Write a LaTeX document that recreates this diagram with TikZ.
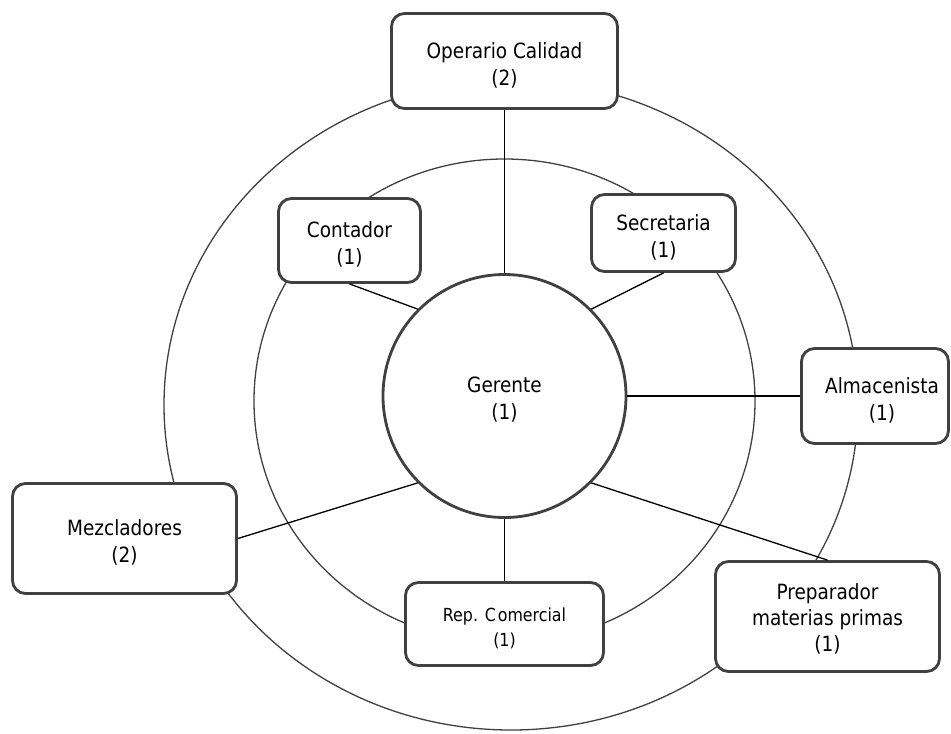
\documentclass[tikz,border=0pt]{standalone}
\usepackage{fontspec}
\setmainfont{DejaVu Sans}[FakeStretch=0.88]
\definecolor{bord}{HTML}{404040}
\tikzset{
  box/.style={draw=bord, line width=2.8pt, rounded corners=13pt, fill=white, inner sep=0pt},
  txt/.style={align=center, inner sep=0pt, font=\fontsize{21}{27}\selectfont},
  ring/.style={draw=bord, line width=1.3pt},
  conn/.style={draw=black, line width=1.3pt},
  hub/.style={circle, draw=bord, line width=2.8pt, fill=white, minimum size=243pt, inner sep=0pt},
}
\begin{document}
\begin{tikzpicture}[x=1pt,y=-1pt]
\useasboundingbox (0,0) rectangle (951,734);
% rings
\draw[ring] (504.5,401) ellipse [x radius=250.5pt, y radius=242pt];
\draw[ring] (511,405) ellipse [x radius=347pt, y radius=325pt];
% center
\node[hub] (ger) at (504.5,396) {};
% boxes
\node[box, minimum width=226pt, minimum height=95pt] (op) at (504.5,61) {};
\node[box, minimum width=142pt, minimum height=84pt] (con) at (349.5,240.5) {};
\node[box, minimum width=144pt, minimum height=77pt] (sec) at (663.5,233) {};
\node[box, minimum width=147pt, minimum height=95pt] (alm) at (875,396) {};
\node[box, minimum width=224pt, minimum height=110pt] (prep) at (827.5,616.5) {};
\node[box, minimum width=198pt, minimum height=83pt] (rep) at (504.5,624) {};
\node[box, minimum width=224pt, minimum height=110pt] (mez) at (124.5,538.5) {};
% texts
\node[txt] (tger) at ([yshift=-4pt]ger.center) {Gerente\\(1)};
\node[txt] (top) at ([yshift=-4pt]op.center) {Operario Calidad\\(2)};
\node[txt] (tcon) at ([yshift=-4pt]con.center) {Contador\\(1)};
\node[txt] (tsec) at ([yshift=-4pt]sec.center) {Secretaria\\(1)};
\node[txt] (talm) at ([xshift=7pt,yshift=-4pt]alm.center) {Almacenista\\(1)};
\node[txt, font=\fontsize{21}{26}\selectfont] (tprep) at ([yshift=-2pt]prep.center) {Preparador\\materias primas\\(1)};
\node[txt, font=\fontsize{18}{25}\selectfont] (trep) at ([yshift=-4pt]rep.center) {Rep. C\kern2pt omercial\\(1)};
\node[txt] (tmez) at ([yshift=-4pt]mez.center) {Mezcladores\\(2)};
% connectors
\draw[conn] (op.south) -- (ger.north);
\draw[conn] (con.south) -- (ger.135);
\draw[conn] (sec.south) -- (ger.45);
\draw[conn] (ger.east) -- (alm.west);
\draw[conn] (ger.-45) -- (prep.north);
\draw[conn] (ger.south) -- (rep.north);
\draw[conn] (ger.-135) -- (mez.east);
\end{tikzpicture}
\end{document}
